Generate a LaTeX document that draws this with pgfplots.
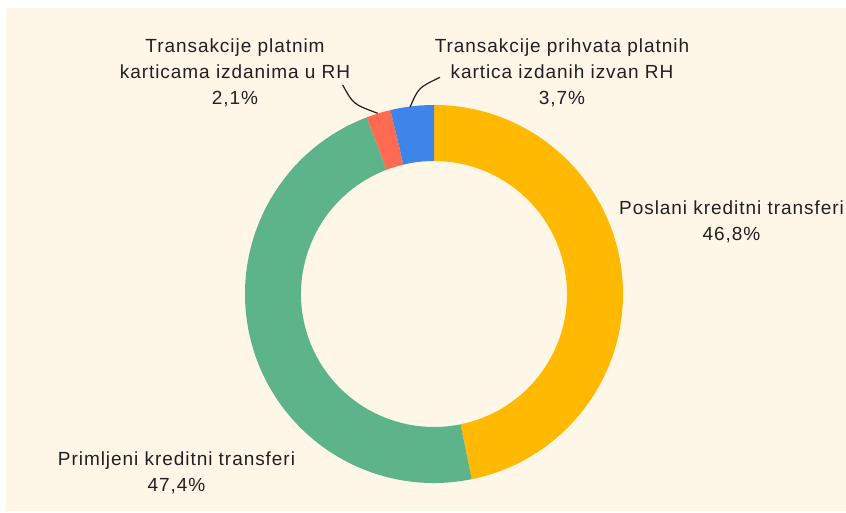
\documentclass[border=0pt]{standalone}
\usepackage{pgfplots}
\usepackage{pgfplotstable}
\pgfplotsset{compat=1.18}
\usepackage{fontspec}
\setmainfont{Liberation Sans}[LetterSpace=5]
\definecolor{bgcream}{HTML}{FEF6E6}
\definecolor{cyellow}{HTML}{FFB900}
\definecolor{cgreen}{HTML}{5DB38A}
\definecolor{cred}{HTML}{FF6B52}
\definecolor{cblue}{HTML}{3D85E8}
\definecolor{ctext}{HTML}{222022}

\pgfplotstableread{
share col
46.8 cyellow
47.4 cgreen
2.1 cred
3.7 cblue
}\donutdata

\begin{document}
\begin{tikzpicture}
\begin{axis}[
  x=1pt, y=1pt, xmin=0, xmax=846, ymin=0, ymax=513,
  hide axis, scale only axis, clip=false,
]
\fill[white] (axis cs:0,0) rectangle (axis cs:846,513);
\fill[bgcream] (axis cs:6,2) rectangle (axis cs:846,505);
\pgfplotstablegetrowsof{\donutdata}
\pgfmathtruncatemacro\lastrow{\pgfplotsretval-1}
\def\cumshare{0}
\pgfplotsforeachungrouped \r in {0,...,\lastrow}{%
  \pgfplotstablegetelem{\r}{share}\of\donutdata \let\sliceval=\pgfplotsretval
  \pgfplotstablegetelem{\r}{col}\of\donutdata \let\slicecol=\pgfplotsretval
  \pgfmathsetmacro\angA{90-3.6*\cumshare}%
  \pgfmathsetmacro\newcum{\cumshare+\sliceval}%
  \pgfmathsetmacro\angB{90-3.6*\newcum}%
  \pgfmathsetmacro\xout{434+189*cos(\angA)}%
  \pgfmathsetmacro\yout{219+189*sin(\angA)}%
  \pgfmathsetmacro\xinn{434+133*cos(\angB)}%
  \pgfmathsetmacro\yinn{219+133*sin(\angB)}%
  \edef\temp{\noexpand\fill[\slicecol] (axis cs:\xout,\yout) arc[start angle=\angA, end angle=\angB, radius=189pt] -- (axis cs:\xinn,\yinn) arc[start angle=\angB, end angle=\angA, radius=133pt] -- cycle;}%
  \temp
  \global\let\cumshare\newcum
}
\draw[ctext, line width=1.2pt] (axis cs:342.7,428) .. controls (axis cs:353.2,408.8) .. (axis cs:377.7,399.7);
\draw[ctext, line width=1.2pt] (axis cs:440,435.7) .. controls (axis cs:418.4,425.3) .. (axis cs:410,405.7);
\tikzset{lbl/.style={font=\fontsize{19}{26}\selectfont, text=ctext, align=center, inner sep=0pt}}
\node[lbl] at (axis cs:235,440.5) {Transakcije platnim\\karticama izdanima u RH\\2,1\%};
\node[lbl] at (axis cs:562,440.5) {Transakcije prihvata platnih\\kartica izdanih izvan RH\\3,7\%};
\node[lbl] at (axis cs:731.5,291) {Poslani kreditni transferi\\46,8\%};
\node[lbl] at (axis cs:176.5,40) {Primljeni kreditni transferi\\47,4\%};
\end{axis}
\pgfresetboundingbox
\path (current axis.south west) rectangle (current axis.north east);
\end{tikzpicture}
\end{document}
